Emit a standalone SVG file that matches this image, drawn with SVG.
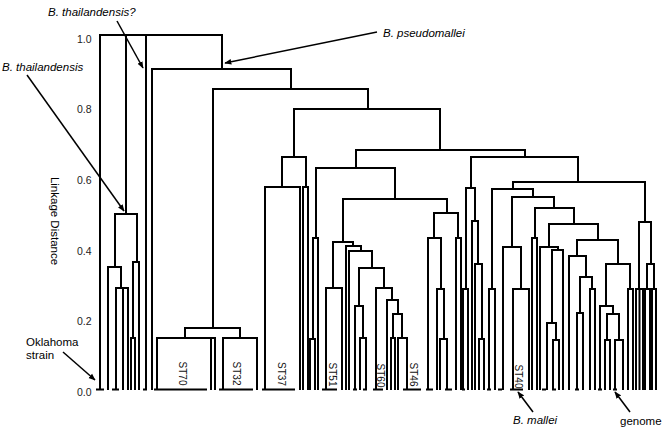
<svg xmlns="http://www.w3.org/2000/svg" width="665" height="430" viewBox="0 0 665 430">
<style>
.t{fill:none;stroke:#000;stroke-width:2;stroke-linecap:square}
.tk{fill:none;stroke:#000;stroke-width:2}
.ax{font-family:"Liberation Sans",Arial,sans-serif;font-size:10.5px;fill:#222}
.st{font-family:"Liberation Sans",Arial,sans-serif;font-size:10px;fill:#111}
.an{font-family:"Liberation Sans",Arial,sans-serif;font-size:11.5px;fill:#000}
.it{font-style:italic}
.ar{fill:none;stroke:#000;stroke-width:1.5;marker-end:url(#ah)}
</style>
<defs>
<marker id="ah" viewBox="0 0 10 10" refX="9" refY="5" markerWidth="7" markerHeight="7" markerUnits="userSpaceOnUse" orient="auto"><path d="M0 1 L10 5 L0 9 Z" fill="#000"/></marker>
</defs>
<rect width="665" height="430" fill="#fff"/>
<g id="axis">
<text class="ax" x="77" y="43">1.0</text>
<text class="ax" x="77" y="113">0.8</text>
<text class="ax" x="77" y="184">0.6</text>
<text class="ax" x="77" y="255">0.4</text>
<text class="ax" x="77" y="325">0.2</text>
<text class="ax" x="77" y="396">0.0</text>
<text class="an" transform="translate(51,221) rotate(90)" text-anchor="middle">Linkage Distance</text>
</g>
<g id="connectors">
<path class="t" d="M100 389V35H222V69M126 35V214M146 35V389
M152 389V69H291V89
M213 328V89H368V109
M294 157V109H440V150
M356 168V150H525V157
M471 188V157H578V182
M513 189V182H645V222
M115 267V214H137V262
M108 389V267H121V288
M116 389V288H128V389M123 288V389
M133 338V262H139V389
M131 389V338H135V389
M185 338V328H240V338
M157 389V338H215V389M211 338V389
M223 389V338H257V389
M282 187V157H306V187
M265 389V187H300V389
M303 389V187H308V389
M316 238V168H395V199
M313 339V238H318V389
M310 389V339H315V389
M343 242V199H447V213
M333 288V242H353V246
M326 389V288H342V389
M346 389V246H361V251
M349 389V251H372V268
M359 306V268H384V288
M355 389V306H363V338
M360 389V338H366V389
M376 389V288H392V300
M387 389V300H398V314
M393 338V314H402V338
M391 389V338H395V389
M398 389V338H407V389
M434 238V213H458V238
M428 389V238H441V289
M437 389V289H444V339
M440 389V339H447V389
M456 389V238H461V389
M466 289V188H475V221
M463 389V289H468V389
M472 389V221H478V264
M475 389V264H482V339
M479 389V339H484V389
M492 289V189H533V197
M489 389V289H495V389
M512 247V197H554V208
M503 389V247H521V289
M513 389V289H529V389
M535 238V208H574V224
M532 389V238H537V389
M549 247V224H598V240
M540 389V247H558V250
M552 323V250H563V389
M547 389V323H556V340
M553 389V340H559V389
M577 256V240H618V264
M569 389V256H586V277
M580 313V277H592V289
M577 389V313H583V389
M590 389V289H595V389
M606 306V264H630V289
M600 389V306H613V314
M607 340V314H619V340
M605 389V340H610V389
M615 389V340H623V389
M628 389V289H633V389
M639 289V222H651V264
M636 389V289H643V389M639.5 289V389
M647 289V264H654V289
M645 389V289H650V389
M652 389V289H656V389"/>
<path class="tk" d="M96 389.5H104M112 389.5H119M143 389.5H147M154 389.5H207M219 389.5H253M262 389.5H295M322 389.5H337M353 389.5H357M363 389.5H367M373 389.5H383M403 389.5H421M426 389.5H433M445 389.5H452M462 389.5H465M487 389.5H491M498 389.5H502M510 389.5H523M542 389.5H546M552 389.5H556M575 389.5H579M598 389.5H602M613 389.5H617"/>
</g>
<g id="labels">
<g id="st70"><text class="st" transform="translate(179,373.5) rotate(90)" text-anchor="middle">ST70</text></g>
<g id="st32"><text class="st" transform="translate(233,373.5) rotate(90)" text-anchor="middle">ST32</text></g>
<g id="st37"><text class="st" transform="translate(278,374) rotate(90)" text-anchor="middle">ST37</text></g>
<g id="st51"><text class="st" transform="translate(329,374.5) rotate(90)" text-anchor="middle">ST51</text></g>
<g id="st60"><text class="st" transform="translate(376.5,375.5) rotate(90)" text-anchor="middle">ST60</text></g>
<g id="st46"><text class="st" transform="translate(410,374.5) rotate(90)" text-anchor="middle">ST46</text></g>
<g id="st40"><text class="st" transform="translate(515,376.5) rotate(90)" text-anchor="middle">ST40</text></g>
</g>
<g id="annotations">
<g id="ann-thai-q"><text class="an it" x="48" y="16">B. thailandensis?</text></g>
<g id="ann-thai"><text class="an it" x="2" y="71">B. thailandensis</text></g>
<g id="ann-pseudo"><text class="an it" x="383" y="37">B. pseudomallei</text></g>
<g id="ann-okla"><text class="an" x="26" y="346">Oklahoma</text><text class="an" x="26" y="359">strain</text></g>
<g id="ann-mallei"><text class="an it" x="513" y="424">B. mallei</text></g>
<g id="ann-genome"><text class="an" x="620" y="425">genome</text></g>
</g>
<g id="arrows">
<path class="ar" d="M117 21L143 68"/>
<path class="ar" d="M27 75L124 211"/>
<path class="ar" d="M377 32L225 63"/>
<path class="ar" d="M63 352L95 380"/>
<path class="ar" d="M533 412L518 392"/>
<path class="ar" d="M630 412L615 392"/>
</g>
</svg>
